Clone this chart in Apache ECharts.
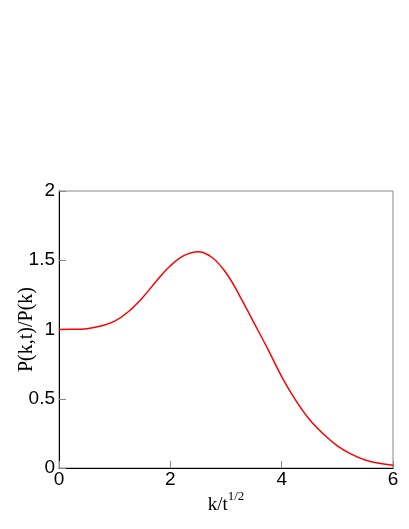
<!DOCTYPE html>
<html>
<head>
<meta charset="utf-8">
<script src="https://cdn.jsdelivr.net/npm/echarts@6/dist/echarts.min.js"></script>
<style>
  html, body { margin: 0; padding: 0; background: #fff; }
  #main { width: 409px; height: 529px; }
</style>
</head>
<body>
<div id="main"></div>
<script>
    // k/t^{1/2} 取值
    var kVals = [0, 0.25, 0.5, 0.75, 1.0, 1.25, 1.5, 1.75, 2.0, 2.25, 2.5, 2.75, 3.0,
                 3.25, 3.5, 3.75, 4.0, 4.25, 4.5, 4.75, 5.0, 5.25, 5.5, 5.75, 6.0];
    // P(k,t)/P(k)
    var ratio = [1.0, 1.001, 1.006, 1.025, 1.06, 1.13, 1.23, 1.35, 1.46, 1.535, 1.562, 1.52, 1.41,
                 1.24, 1.05, 0.86, 0.66, 0.49, 0.35, 0.245, 0.16, 0.1, 0.058, 0.035, 0.02];
    var xTicks = [0, 2, 4, 6];
    var yTicks = [0, 0.5, 1, 1.5, 2];

    var myChart = echarts.init(document.getElementById('main'));

    var points = [];
    for (var i = 0; i < kVals.length; i++) {
        points.push([kVals[i], ratio[i]]);
    }

    var tickLabel = {
        color: '#000',
        fontFamily: 'Liberation Sans',
        fontSize: 19
    };

    var option = {
        animation: false,
        grid: {
            left: 59,
            right: 16,
            top: 191,
            bottom: 61,
            containLabel: false,
            outerBoundsMode: 'none',
            show: true,
            borderColor: '#888',
            borderWidth: 1
        },
        xAxis: {
            type: 'value',
            min: xTicks[0],
            max: xTicks[xTicks.length - 1],
            interval: 2,
            name: '{a|k/t}{b|1/2}',
            nameLocation: 'middle',
            nameGap: 22,
            nameMoveOverlap: false,
            nameTextStyle: {
                rich: {
                    a: { fontFamily: 'Liberation Serif', fontSize: 19, color: '#000' },
                    b: { fontFamily: 'Liberation Serif', fontSize: 13, color: '#000', padding: [0, 0, 18, 0] }
                }
            },
            axisLine: { show: true, lineStyle: { color: '#000', width: 1 } },
            axisTick: { show: true, inside: true, length: 7, lineStyle: { color: '#888' } },
            axisLabel: Object.assign({ margin: 2 }, tickLabel),
            splitLine: { show: false }
        },
        yAxis: {
            type: 'value',
            min: yTicks[0],
            max: yTicks[yTicks.length - 1],
            interval: 0.5,
            name: 'P(k,t)/P(k)',
            nameLocation: 'middle',
            nameGap: 22,
            nameMoveOverlap: false,
            nameTextStyle: { fontFamily: 'Liberation Serif', fontSize: 20, color: '#000' },
            axisLine: { show: true, lineStyle: { color: '#000', width: 1 } },
            axisTick: { show: true, inside: true, length: 7, lineStyle: { color: '#888' } },
            axisLabel: Object.assign({
                margin: 4,
                formatter: function (v) { return String(v); }
            }, tickLabel),
            splitLine: { show: false }
        },
        series: [{
            type: 'line',
            data: points,
            smooth: 0.4,
            symbol: 'none',
            lineStyle: { color: '#ff0000', width: 1.5 }
        }]
    };

    myChart.setOption(option);
</script>
</body>
</html>
